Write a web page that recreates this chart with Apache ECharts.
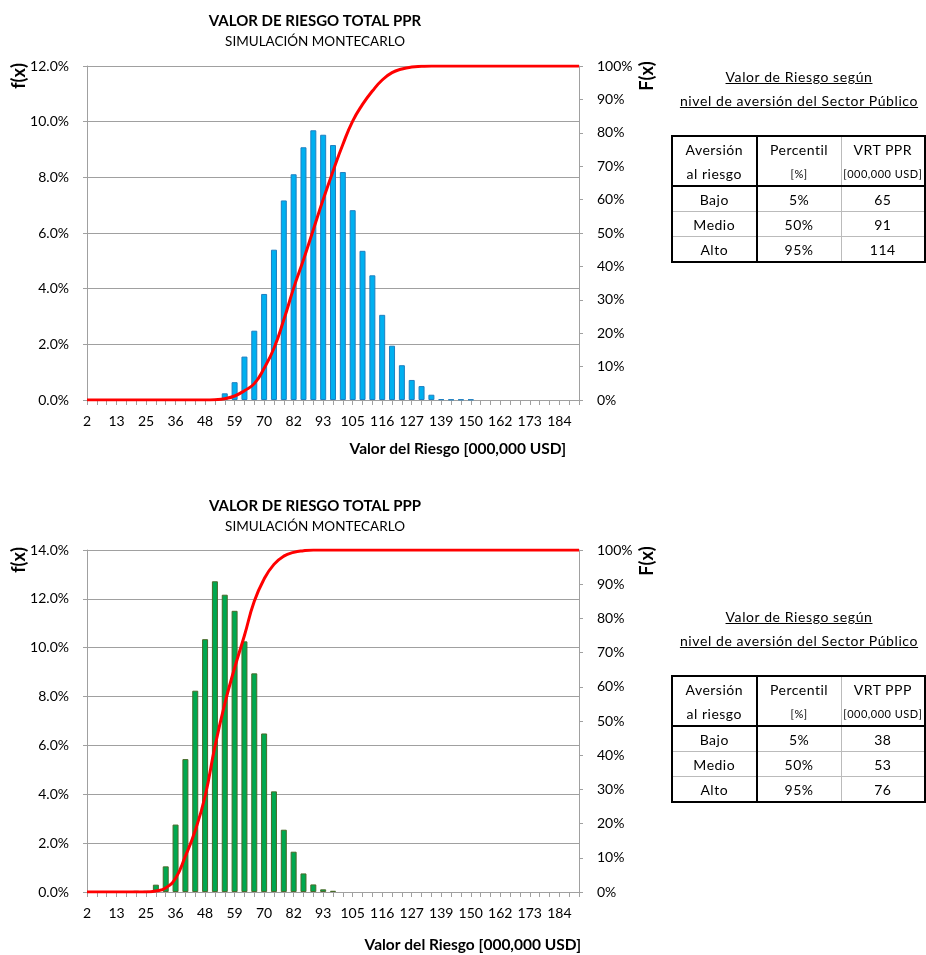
<!DOCTYPE html>
<html>
<head>
<meta charset="utf-8">
<script src="https://cdn.jsdelivr.net/npm/echarts@6/dist/echarts.min.js"></script>
<style>
body{margin:0;background:#fff;font-family:Lato,"Open Sans",sans-serif;color:#000}
#chart{position:absolute;left:0;top:0;width:926px;height:955px}
.tit{position:absolute;width:260px;text-align:center;font-size:14px;letter-spacing:0.6px;line-height:24px}
.tit span{text-decoration:underline}
table.vr{position:absolute;border-collapse:collapse;font-size:14px;letter-spacing:0.5px;table-layout:fixed}
table.vr td{text-align:center;padding:0;height:24px;border-left:1px solid #bbb;border-top:1px solid #bbb;white-space:nowrap}
table.vr td.c0{border-right:2px solid #000}
table.vr tr.h td{border-top:none}
table.vr tr.h2 td{border-bottom:2px solid #000;font-size:11px}
</style>
</head>
<body>
<div id="chart"></div>
<script>
// categorias del eje X (valor del riesgo)
var categorias = [2,6,10,13,17,21,25,29,32,36,40,44,48,51,55,59,63,67,70,74,78,82,86,89,93,97,101,105,108,112,116,120,124,127,131,135,139,143,146,150,154,158,162,165,169,173,177,181,184,188,192];

// PPR: frecuencia f(x) [%] y acumulada F(x) [%]
var pprFrec = [0,0,0,0,0,0,0,0,0,0,0,0,0,0,0.24,0.64,1.56,2.49,3.81,5.40,7.17,8.11,9.08,9.69,9.53,9.16,8.19,6.82,5.36,4.48,3.06,1.95,1.25,0.72,0.50,0.19,0.03,0.02,0.02,0.02,0,0,0,0,0,0,0,0,0,0,0];
var pprAcum = [0,0,0,0,0,0,0,0,0,0,0,0,0,0.1,0.4,1.2,2.8,4.9,9.5,15.5,24,33.5,42,51,60,68.5,76.5,83.5,88.5,92.5,95.8,98,99.1,99.7,99.9,100,100,100,100,100,100,100,100,100,100,100,100,100,100,100,100];

// PPP
var pppFrec = [0,0,0,0,0,0.05,0.05,0.30,1.05,2.76,5.44,8.24,10.35,12.72,12.17,11.51,10.26,8.95,6.49,4.12,2.55,1.65,0.76,0.31,0.11,0.05,0,0,0,0,0,0,0,0,0,0,0,0,0,0,0,0,0,0,0,0,0,0,0,0,0];
var pppAcum = [0,0,0,0,0,0,0,0.3,1.2,4.0,10.5,18,28,42.5,55,65.5,75,85,91.5,95.8,98.2,99.3,99.8,100,100,100,100,100,100,100,100,100,100,100,100,100,100,100,100,100,100,100,100,100,100,100,100,100,100,100,100];

// tablas de percentiles
var encabezado = ["Aversión","Percentil"];
var subEncabezado = ["al riesgo","[%]","[000,000 USD]"];
var tablaPPR = [["Bajo","5%","65"],["Medio","50%","91"],["Alto","95%","114"]];
var tablaPPP = [["Bajo","5%","38"],["Medio","50%","53"],["Alto","95%","76"]];

var FONT = 'Lato';
var gris = '#a0a0a0';

function sinCero(arr){ return arr.map(function(v){ return v === 0 ? '-' : v; }); }

function ejeX(idx){
	return {
		type:'category', gridIndex:idx, data:categorias, boundaryGap:false,
		axisLine:{lineStyle:{color:gris}},
		axisTick:{show:true, interval:0, length:5, lineStyle:{color:gris}},
		axisLabel:{interval:2, margin:14, color:'#000', fontSize:14, fontFamily:FONT},
		splitLine:{show:false}
	};
}
function ejeIzq(idx, max){
	return {
		type:'value', gridIndex:idx, min:0, max:max, interval:2,
		axisLine:{show:true, lineStyle:{color:gris}},
		axisTick:{show:true, length:4, lineStyle:{color:gris}},
		axisLabel:{margin:18, color:'#000', fontSize:14, fontFamily:FONT,
			formatter:function(v){ return v.toFixed(1)+'%'; }},
		splitLine:{show:true, lineStyle:{color:gris}}
	};
}
function ejeDer(idx){
	return {
		type:'value', gridIndex:idx, min:0, max:100, interval:10, position:'right',
		axisLine:{show:true, lineStyle:{color:gris}},
		axisTick:{show:true, length:4, lineStyle:{color:gris}},
		axisLabel:{margin:18, color:'#000', fontSize:14, fontFamily:FONT,
			formatter:function(v){ return v+'%'; }},
		splitLine:{show:false}
	};
}
function barras(idx, datos, color, borde){
	return {type:'bar', xAxisIndex:idx, yAxisIndex:idx*2, data:sinCero(datos), barWidth:6,
		itemStyle:{color:color, borderColor:borde, borderWidth:1}, z:2};
}
function curva(idx, datos){
	return {type:'line', xAxisIndex:idx, yAxisIndex:idx*2+1, data:datos, smooth:0.5,
		symbol:'none', lineStyle:{color:'#ff0000', width:3}, z:5};
}
function texto(x, y, t, opts){
	return {type:'text', x:x, y:y, rotation:opts.rot || 0,
		style:{text:t, font:(opts.bold?'bold ':'')+opts.size+'px '+FONT, fill:'#000',
			textAlign:opts.align || 'center', textVerticalAlign:'middle'}};
}

var myChart = echarts.init(document.getElementById('chart'));
var option = {
	animation:false,
	title:[
		{text:'VALOR DE RIESGO TOTAL PPR', subtext:'SIMULACIÓN MONTECARLO', left:310, top:9, textAlign:'center', itemGap:6,
			textStyle:{fontSize:15, fontWeight:'bold', color:'#000', fontFamily:FONT},
			subtextStyle:{fontSize:13.5, color:'#000', fontFamily:FONT}},
		{text:'VALOR DE RIESGO TOTAL PPP', subtext:'SIMULACIÓN MONTECARLO', left:310, top:494, textAlign:'center', itemGap:6,
			textStyle:{fontSize:15, fontWeight:'bold', color:'#000', fontFamily:FONT},
			subtextStyle:{fontSize:13.5, color:'#000', fontFamily:FONT}}
	],
	grid:[
		{left:87, top:66, width:492, height:334},
		{left:87, top:550, width:492, height:342}
	],
	xAxis:[ejeX(0), ejeX(1)],
	yAxis:[ejeIzq(0,12), ejeDer(0), ejeIzq(1,14), ejeDer(1)],
	series:[
		barras(0, pprFrec, '#00b0f0', '#1f7fc0'),
		curva(0, pprAcum),
		barras(1, pppFrec, '#00a84f', '#4a6a2a'),
		curva(1, pppAcum)
	],
	graphic:[
		texto(19, 76, 'f(x)', {bold:true, size:18, rot:Math.PI/2}),
		texto(647, 76, 'F(x)', {bold:true, size:18, rot:Math.PI/2}),
		texto(566, 449, 'Valor del Riesgo [000,000 USD]', {bold:true, size:15.5, align:'right'}),
		texto(19, 560, 'f(x)', {bold:true, size:18, rot:Math.PI/2}),
		texto(647, 561, 'F(x)', {bold:true, size:18, rot:Math.PI/2}),
		texto(581, 945, 'Valor del Riesgo [000,000 USD]', {bold:true, size:15.5, align:'right'})
	]
};
myChart.setOption(option);

// tablas a la derecha
function tabla(top, tituloTop, colVRT, filas){
	var t = document.createElement('div');
	t.className = 'tit';
	t.style.left = '669px'; t.style.top = tituloTop+'px';
	t.innerHTML = '<span>Valor de Riesgo según</span><br><span>nivel de aversión del Sector Público</span>';
	document.body.appendChild(t);

	var tb = document.createElement('table');
	tb.className = 'vr';
	tb.style.left = '671px'; tb.style.top = top+'px';
	tb.style.border = '2px solid #000';
	var html = '<colgroup><col style="width:85px"><col style="width:85px"><col style="width:84px"></colgroup>';
	html += '<tr class="h"><td class="c0">'+encabezado[0]+'</td><td>'+encabezado[1]+'</td><td>'+colVRT+'</td></tr>';
	html += '<tr class="h h2"><td class="c0" style="font-size:14px">'+subEncabezado[0]+'</td><td>'+subEncabezado[1]+'</td><td>'+subEncabezado[2]+'</td></tr>';
	filas.forEach(function(f){
		html += '<tr><td class="c0">'+f[0]+'</td><td>'+f[1]+'</td><td>'+f[2]+'</td></tr>';
	});
	tb.innerHTML = html;
	document.body.appendChild(tb);
}
tabla(135, 65, 'VRT PPR', tablaPPR);
tabla(675, 605, 'VRT PPP', tablaPPP);
</script>
</body>
</html>
